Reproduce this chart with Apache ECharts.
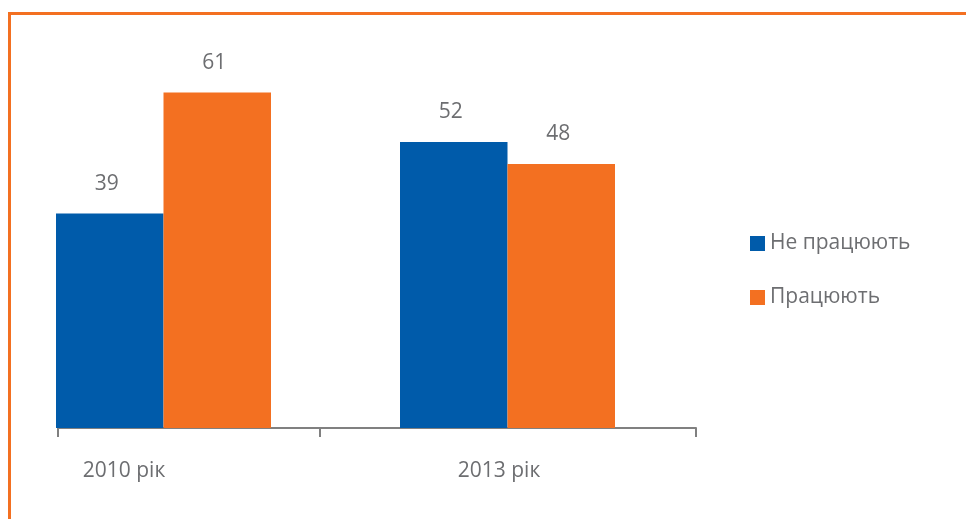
<!DOCTYPE html>
<html>
<head>
<meta charset="utf-8">
<script src="https://cdn.jsdelivr.net/npm/echarts@6/dist/echarts.min.js"></script>
<style>
  html, body { margin: 0; padding: 0; background: #fff; }
  #chart { width: 966px; height: 519px; }
</style>
</head>
<body>
<div id="chart"></div>
<script>
const categories = ['2010 рік', '2013 рік'];
const seriesNames = ['Не працюють', 'Працюють'];
const notWorking = [39, 52];
const working = [61, 48];

const textGray = '#6d6e71';
const blue = '#005baa';
const orange = '#f37021';

const chart = echarts.init(document.getElementById('chart'));

const valueLabel = { show: true, position: 'top', distance: 19, color: textGray, fontSize: 21, offset: [-3, 0] };

const option = {
  backgroundColor: '#ffffff',
  animation: false,
  textStyle: { fontFamily: 'Open Sans, Noto Sans, sans-serif' },
  graphic: [
    { type: 'rect', shape: { x: 8, y: 12, width: 958, height: 3 }, style: { fill: orange }, silent: true },
    { type: 'rect', shape: { x: 8, y: 12, width: 3, height: 507 }, style: { fill: orange }, silent: true }
  ],
  legend: {
    orient: 'vertical',
    left: 745,
    top: 228,
    itemWidth: 15,
    itemHeight: 15,
    itemGap: 33,
    icon: 'rect',
    data: seriesNames,
    textStyle: { color: textGray, fontSize: 21 }
  },
  grid: [
    { left: 163.5, width: 344, top: 43, height: 385, containLabel: false },
    { left: 58, width: 638, top: 43, height: 385, containLabel: false }
  ],
  xAxis: [
    {
      type: 'category',
      gridIndex: 0,
      boundaryGap: false,
      data: categories,
      axisLine: { show: false },
      axisTick: { show: false },
      axisLabel: { show: false }
    },
    {
      type: 'value',
      gridIndex: 1,
      min: 0,
      max: 638,
      splitLine: { show: false },
      axisLine: { show: true, lineStyle: { color: '#808080', width: 2 } },
      axisTick: { show: true, length: 9, lineStyle: { color: '#808080', width: 2 }, customValues: [0, 262, 638] },
      axisLabel: {
        show: true,
        margin: 33,
        color: textGray,
        fontSize: 21,
        customValues: [66, 441],
        formatter: function (v) { return v < 300 ? categories[0] : categories[1]; }
      }
    }
  ],
  yAxis: [
    { type: 'value', gridIndex: 0, min: 0, max: 70, show: false, splitLine: { show: false } },
    { type: 'value', gridIndex: 1, min: 0, max: 70, show: false, splitLine: { show: false } }
  ],
  series: [
    {
      name: seriesNames[0],
      type: 'bar',
      xAxisIndex: 0,
      yAxisIndex: 0,
      clip: false,
      data: notWorking,
      itemStyle: { color: blue },
      barGap: '0%',
      barWidth: 107.5,
      label: valueLabel
    },
    {
      name: seriesNames[1],
      type: 'bar',
      xAxisIndex: 0,
      yAxisIndex: 0,
      clip: false,
      data: working,
      itemStyle: { color: orange },
      barGap: '0%',
      barWidth: 107.5,
      label: valueLabel
    }
  ]
};

chart.setOption(option);
</script>
</body>
</html>
